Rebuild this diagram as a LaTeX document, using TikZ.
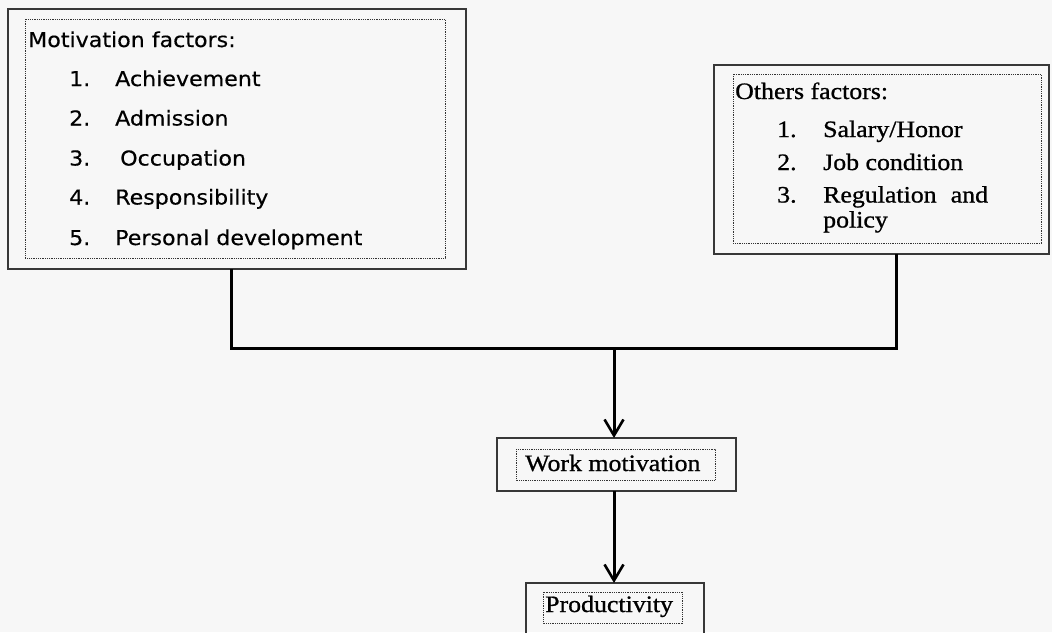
\documentclass[tikz,border=0pt]{standalone}
\usepackage{fontspec}
\usetikzlibrary{arrows.meta}
\newfontfamily\sansface[FakeStretch=1.08, FakeBold=0.4]{DejaVu Sans}
\newfontfamily\serifface[FakeStretch=1.1, FakeBold=0.9]{Liberation Serif}

\tikzset{
  frame/.style={draw=black!78, line width=1.6pt, fill=none, inner sep=0pt, outer sep=0pt},
  dotbox/.style={draw=black!80, line width=0.9pt, dash pattern=on 0.9pt off 0.9pt},
  sanstext/.style={anchor=base west, inner sep=0pt, font=\sansface\fontsize{20.5}{24}\selectfont},
  seriftext/.style={anchor=base west, inner sep=0pt, font=\serifface\fontsize{23.5}{27}\selectfont},
  link/.style={draw=black, line width=3pt},
  flow/.style={link, -{Straight Barb[length=16pt,width=19pt,line width=2.6pt]}}
}

\begin{document}
\begin{tikzpicture}[x=1pt, y=-1pt]
  % canvas
  \fill[black!3] (0,0) rectangle (1052,632);
  \useasboundingbox (0,0) rectangle (1052,632);

  % outer frames
  \node[frame, minimum width=458pt, minimum height=260pt] (mot) at (237,139) {};
  \node[frame, minimum width=335pt, minimum height=189pt] (oth) at (881.5,159.5) {};
  \node[frame, minimum width=239pt, minimum height=53pt] (work) at (616.5,464.5) {};
  \node[frame, minimum width=178pt, minimum height=52pt] (prod) at (615,609) {};

  % dotted text frames
  \draw[dotbox] (25,19) rectangle (445,258);
  \draw[dotbox] (733,74) rectangle (1041,243);
  \draw[dotbox] (516,449) rectangle (715,480);
  \draw[dotbox] (543,592) rectangle (682,623);

  % motivation factors
  \node[sanstext] (mh) at (28,47) {Motivation factors:};
  \node[sanstext] (m1n) at (69,86) {1.};
  \node[sanstext] (m1) at (115,86) {Achievement};
  \node[sanstext] (m2n) at (69,125.5) {2.};
  \node[sanstext] (m2) at (115,125.5) {Admission};
  \node[sanstext] (m3n) at (69,165.5) {3.};
  \node[sanstext] (m3) at (120,165.5) {Occupation};
  \node[sanstext] (m4n) at (69,204.5) {4.};
  \node[sanstext] (m4) at (115,204.5) {Responsibility};
  \node[sanstext] (m5n) at (69,245) {5.};
  \node[sanstext] (m5) at (115,245) {Personal development};

  % other factors
  \node[seriftext] (oh) at (735,99) {Others factors:};
  \node[seriftext] (o1n) at (777,137) {1.};
  \node[seriftext] (o1) at (823,137) {Salary/Honor};
  \node[seriftext] (o2n) at (777,170) {2.};
  \node[seriftext] (o2) at (823,170) {Job condition};
  \node[seriftext] (o3n) at (777,202.5) {3.};
  \node[seriftext] (o3) at (823,202.5) {Regulation\hspace{0.6em}and};
  \node[seriftext] (o3b) at (823,227.5) {policy};

  % outcome labels
  \node[seriftext] (wt) at (525,471) {Work motivation};
  \node[seriftext] (pt) at (545,612) {Productivity};

  % connectors
  \coordinate (join) at (614,348);
  \draw[link] ([xshift=-6pt]mot.south) |- (join);
  \draw[link] ([xshift=14.5pt]oth.south) |- (join);
  \draw[flow] (join) -- (join |- work.north);
  \draw[flow] (work.south -| join) -- (prod.north -| join);
\end{tikzpicture}
\end{document}
